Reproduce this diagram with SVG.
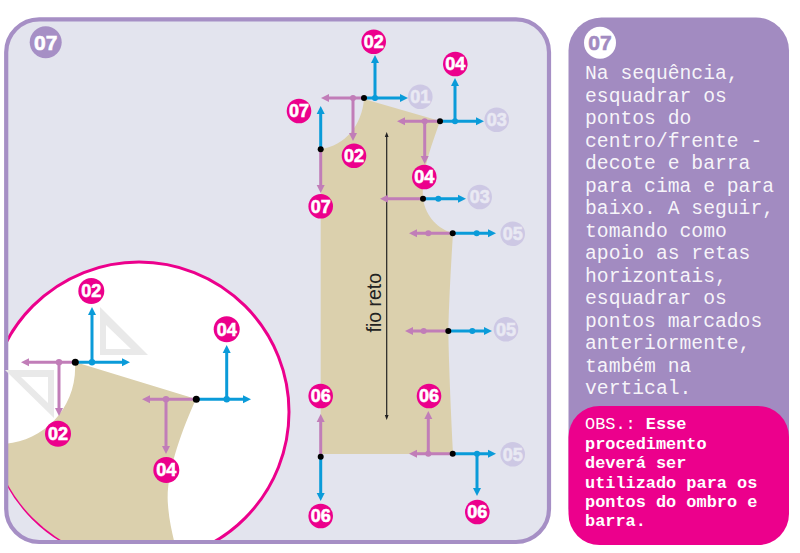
<svg xmlns="http://www.w3.org/2000/svg" width="800" height="553" viewBox="0 0 800 553">
<style>
.b{stroke:#0A9BD9;stroke-width:3;fill:none;marker-end:url(#ab)}
.p{stroke:#C17DB8;stroke-width:3;fill:none;marker-end:url(#ap)}
.bd{fill:#0A9BD9}.pd{fill:#C17DB8}.k{fill:#000}
.c{fill:#EC008C}.l{fill:#CDC8E4}
.t{font-family:"Liberation Sans",Arial,sans-serif;font-weight:700;font-size:18px;text-anchor:middle;fill:#fff;stroke:#fff;stroke-width:.6}
.tl{fill:#E9E9F3;stroke:#E9E9F3}
.m{font-family:"Liberation Mono","Courier New",monospace;fill:#fff}
.tri{fill:#E9E9E9;fill-rule:evenodd}
</style>
<defs>
<marker id="ab" markerUnits="userSpaceOnUse" markerWidth="10" markerHeight="10" refX="1" refY="5" orient="auto"><path d="M0,1 L8,5 L0,9 z" fill="#0A9BD9"/></marker>
<marker id="ap" markerUnits="userSpaceOnUse" markerWidth="10" markerHeight="10" refX="1" refY="5" orient="auto"><path d="M0,1 L8,5 L0,9 z" fill="#C17DB8"/></marker>
<clipPath id="pan"><rect x="6.200" y="19.300" width="542.800" height="522.700" rx="33"/></clipPath>
<clipPath id="circ"><circle cx="139" cy="412" r="150"/></clipPath>
</defs>

<rect x="6.200" y="19.300" width="542.800" height="522.700" rx="33" fill="#E3E4EE"/>
<g clip-path="url(#pan)">
<circle cx="139" cy="412" r="150" fill="#fff" stroke="#EC008C" stroke-width="3"/>
<g clip-path="url(#circ)">
<path d="M75,362 L196,399 C182,430 165,475 168,505 C169,520 172,532 175,545 L0,545 L0,444 C40,444 78,410 75,362 z" fill="#DBD0AD"/>
</g>
</g>
<rect x="6.200" y="19.300" width="542.800" height="522.700" rx="33" fill="none" stroke="#A68FC5" stroke-width="4.200"/>
<path class="tri" d="M100,307 L148,355 L100,355 z M106,325 L106,349 L131,349 z"/>
<path class="tri" d="M5,370 L54,370 L54,418 z M21,377 L48,403 L48,377 z"/>

<path d="M364,99 L440,121 C432,145 421,170 423,199 C426,217 438,229 453,233 C451,265 449,300 448.300,331 C449,370 451,415 453,454 L320.700,454 L320.700,149 C345,146 362,125 364,99 z" fill="#DBD0AD"/>

<g id="grain" fill="#222">
<line x1="386.700" y1="136" x2="386.700" y2="417" stroke="#222" stroke-width="1.200"/>
<path d="M386.700,132 L384.800,137 L388.600,137 z M386.700,420 L384.800,415 L388.600,415 z"/>
<text transform="translate(380.500 332.500) rotate(-90)" font-family="'Liberation Sans',Arial,sans-serif" font-size="19.500" fill="#222">fio reto</text>
</g>

<g id="connectors">
<line class="p" x1="364" y1="98" x2="328" y2="98"/><line class="p" x1="353" y1="98" x2="353" y2="134"/>
<line class="b" x1="364" y1="98" x2="401" y2="98"/><line class="b" x1="375" y1="98" x2="375" y2="62"/>
<line class="p" x1="440" y1="121.300" x2="404" y2="121.300"/><line class="p" x1="424.700" y1="121.300" x2="424.700" y2="157"/>
<line class="b" x1="440" y1="121.300" x2="477" y2="121.300"/><line class="b" x1="455" y1="121.300" x2="455" y2="85"/>
<line class="p" x1="423" y1="198.700" x2="387" y2="198.700"/><line class="b" x1="423" y1="198.700" x2="459" y2="198.700"/>
<line class="p" x1="452.700" y1="233.300" x2="416" y2="233.300"/><line class="b" x1="452.700" y1="233.300" x2="489" y2="233.300"/>
<line class="p" x1="448.300" y1="331" x2="412" y2="331"/><line class="b" x1="448.300" y1="331" x2="485" y2="331"/>
<line class="p" x1="452.700" y1="453.700" x2="416" y2="453.700"/><line class="p" x1="428.300" y1="453.700" x2="428.300" y2="418"/>
<line class="b" x1="452.700" y1="453.700" x2="489" y2="453.700"/><line class="b" x1="477" y1="453.700" x2="477" y2="489"/>
<line class="b" x1="320.700" y1="149.300" x2="320.700" y2="113"/><line class="p" x1="320.700" y1="149.300" x2="320.700" y2="186"/>
<line class="p" x1="320.700" y1="456.700" x2="320.700" y2="421"/><line class="b" x1="320.700" y1="456.700" x2="320.700" y2="494"/>
<line class="p" x1="75" y1="362.300" x2="28" y2="362.300"/><line class="p" x1="59" y1="362.300" x2="59" y2="409"/>
<line class="b" x1="75" y1="362.300" x2="123" y2="362.300"/><line class="b" x1="92" y1="362.300" x2="92" y2="314"/>
<line class="p" x1="196.300" y1="399.300" x2="149" y2="399.300"/><line class="p" x1="166" y1="399.300" x2="166" y2="447"/>
<line class="b" x1="196.300" y1="399.300" x2="244" y2="399.300"/><line class="b" x1="226.700" y1="399.300" x2="226.700" y2="352"/>
<g>
<circle class="bd" cx="375" cy="98" r="3"/><circle class="pd" cx="353" cy="98" r="3"/>
<circle class="bd" cx="455" cy="121.300" r="3"/><circle class="pd" cx="424.700" cy="121.300" r="3"/>
<circle class="bd" cx="438.300" cy="198.700" r="3"/>
<circle class="bd" cx="476.700" cy="233.300" r="3"/><circle class="pd" cx="428.300" cy="233.300" r="3"/>
<circle class="bd" cx="472.300" cy="331" r="3"/><circle class="pd" cx="423.700" cy="331" r="3"/>
<circle class="bd" cx="477" cy="453.700" r="3"/><circle class="pd" cx="428.300" cy="453.700" r="3"/>
<circle class="bd" cx="92" cy="362.300" r="3.200"/><circle class="pd" cx="59" cy="362.300" r="3.200"/>
<circle class="bd" cx="226.700" cy="399.300" r="3.200"/><circle class="pd" cx="166" cy="399.300" r="3.200"/>
<circle class="k" cx="364" cy="98" r="3"/><circle class="k" cx="440" cy="121.300" r="3"/>
<circle class="k" cx="423" cy="198.700" r="3"/><circle class="k" cx="452.700" cy="233.300" r="3"/>
<circle class="k" cx="448.300" cy="331" r="3"/><circle class="k" cx="452.700" cy="453.700" r="3"/>
<circle class="k" cx="320.700" cy="149.300" r="3"/><circle class="k" cx="320.700" cy="456.700" r="3"/>
<circle class="k" cx="75.300" cy="362.300" r="3.500"/><circle class="k" cx="196.300" cy="399.300" r="3.500"/>
</g>
</g>

<g id="step-main"><circle cx="45.700" cy="42.300" r="16" fill="#A68FC5"/><text class="t" x="45.700" y="50" style="font-size:21px">07</text></g>
<g id="n02a"><circle class="c" cx="373.700" cy="41.700" r="12.300"/><text class="t" x="373.700" y="48">02</text></g>
<g id="n04a"><circle class="c" cx="455.300" cy="64" r="12.300"/><text class="t" x="455.300" y="70.300">04</text></g>
<g id="n07a"><circle class="c" cx="299" cy="111" r="12.300"/><text class="t" x="299" y="117.300">07</text></g>
<g id="n02b"><circle class="c" cx="354" cy="155.700" r="12.300"/><text class="t" x="354" y="162">02</text></g>
<g id="n04b"><circle class="c" cx="424.300" cy="177" r="12.300"/><text class="t" x="424.300" y="183.300">04</text></g>
<g id="n07b"><circle class="c" cx="320.700" cy="206.300" r="12.300"/><text class="t" x="320.700" y="212.600">07</text></g>
<g id="n06a"><circle class="c" cx="320.700" cy="396" r="12.300"/><text class="t" x="320.700" y="402.300">06</text></g>
<g id="n06b"><circle class="c" cx="429" cy="396" r="12.300"/><text class="t" x="429" y="402.300">06</text></g>
<g id="n06c"><circle class="c" cx="320.700" cy="516" r="12.300"/><text class="t" x="320.700" y="522.300">06</text></g>
<g id="n06d"><circle class="c" cx="477.300" cy="512" r="12.300"/><text class="t" x="477.300" y="518.300">06</text></g>
<g id="n01"><circle class="l" cx="420.300" cy="96.700" r="12.300"/><text class="t tl" x="420.300" y="103">01</text></g>
<g id="n03a"><circle class="l" cx="496.700" cy="119.700" r="12.300"/><text class="t tl" x="496.700" y="126">03</text></g>
<g id="n03b"><circle class="l" cx="479.700" cy="197" r="12.300"/><text class="t tl" x="479.700" y="203.300">03</text></g>
<g id="n05a"><circle class="l" cx="512.700" cy="233.700" r="12.300"/><text class="t tl" x="512.700" y="240">05</text></g>
<g id="n05b"><circle class="l" cx="506" cy="329.300" r="12.300"/><text class="t tl" x="506" y="335.600">05</text></g>
<g id="n05c"><circle class="l" cx="512.700" cy="454.300" r="12.300"/><text class="t tl" x="512.700" y="460.600">05</text></g>
<g id="i02a"><circle class="c" cx="91.300" cy="291" r="13"/><text class="t" x="91.300" y="297.300">02</text></g>
<g id="i02b"><circle class="c" cx="58" cy="433.700" r="13"/><text class="t" x="58" y="440">02</text></g>
<g id="i04a"><circle class="c" cx="226.700" cy="329.300" r="13"/><text class="t" x="226.700" y="335.600">04</text></g>
<g id="i04b"><circle class="c" cx="166.300" cy="470" r="13"/><text class="t" x="166.300" y="476.300">04</text></g>

<g id="side-panel">
<rect x="568.500" y="17.500" width="220.500" height="523" rx="33" fill="#A28BC1"/>
<circle cx="600" cy="42.700" r="16" fill="#fff"/>
<text class="t" x="600" y="50" style="font-size:21px;fill:#A28BC1;stroke:#A28BC1">07</text>
<text class="m" font-size="19.700" fill-opacity=".92">
<tspan x="585" y="79.300">Na sequência,</tspan>
<tspan x="585" y="101.800">esquadrar os</tspan>
<tspan x="585" y="124.300">pontos do</tspan>
<tspan x="585" y="146.800">centro/frente -</tspan>
<tspan x="585" y="169.300">decote e barra</tspan>
<tspan x="585" y="191.800">para cima e para</tspan>
<tspan x="585" y="214.300">baixo. A seguir,</tspan>
<tspan x="585" y="236.800">tomando como</tspan>
<tspan x="585" y="259.300">apoio as retas</tspan>
<tspan x="585" y="281.800">horizontais,</tspan>
<tspan x="585" y="304.300">esquadrar os</tspan>
<tspan x="585" y="326.800">pontos marcados</tspan>
<tspan x="585" y="349.300">anteriormente,</tspan>
<tspan x="585" y="371.800">também na</tspan>
<tspan x="585" y="394.300">vertical.</tspan>
</text>
</g>
<g id="note">
<rect x="568.500" y="406" width="220.500" height="139" rx="31" fill="#EC008C"/>
<text class="m" font-size="16.900">
<tspan x="585" y="429.300">OBS.: <tspan font-weight="700">Esse</tspan></tspan>
<tspan x="585" y="448.700" font-weight="700">procedimento</tspan>
<tspan x="585" y="468.100" font-weight="700">deverá ser</tspan>
<tspan x="585" y="487.500" font-weight="700">utilizado para os</tspan>
<tspan x="585" y="506.900" font-weight="700">pontos do ombro e</tspan>
<tspan x="585" y="526.300" font-weight="700">barra.</tspan>
</text>
</g>
</svg>
